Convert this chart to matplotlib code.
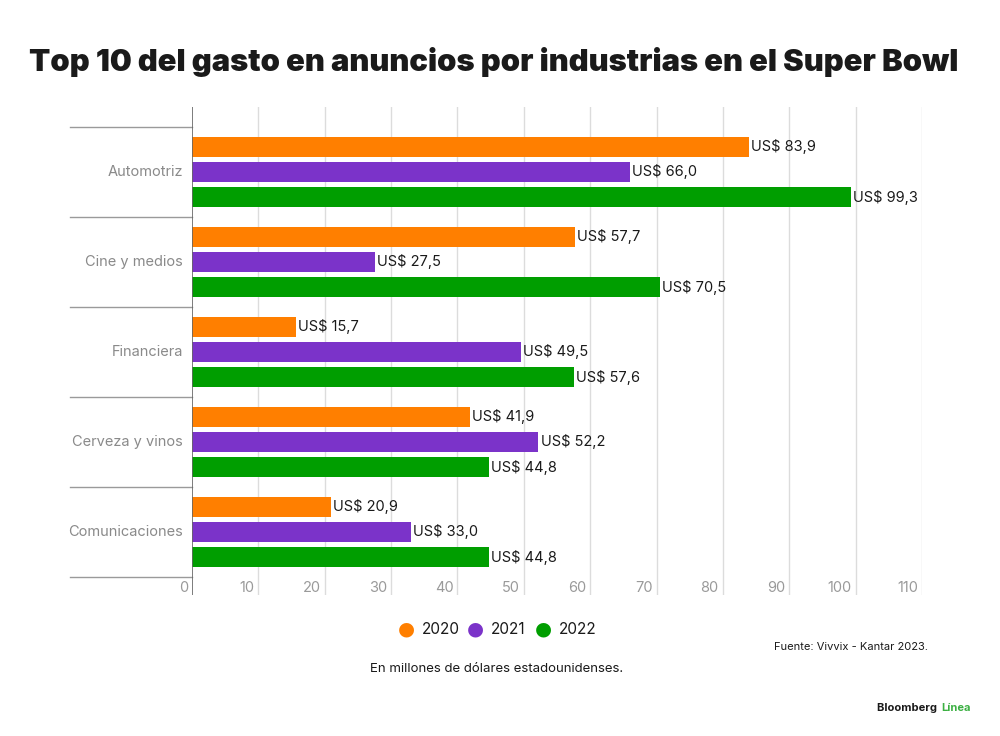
import matplotlib
matplotlib.use("Agg")
import matplotlib.pyplot as plt
import matplotlib.transforms as mtransforms

# datos (millones de US$)
categorias = ["Automotriz", "Cine y medios", "Financiera", "Cerveza y vinos", "Comunicaciones"]
anios = ["2020", "2021", "2022"]
gasto_2020 = [83.9, 57.7, 15.7, 41.9, 20.9]
gasto_2021 = [66.0, 27.5, 49.5, 52.2, 33.0]
gasto_2022 = [99.3, 70.5, 57.6, 44.8, 44.8]
ticks_x = list(range(0, 111, 10))

colores = ["#FF7F00", "#7B33C9", "#009E00"]
plt.rcParams["font.family"] = ["Inter", "DejaVu Sans"]

fig = plt.figure(figsize=(10, 7.36), dpi=100)
ax = fig.add_axes([0.192, 1 - 595 / 736, 0.730, (595 - 107) / 736])

series = [gasto_2020, gasto_2021, gasto_2022]
offsets = [-0.28, 0.0, 0.28]
alto = 0.225

for serie, off, col in zip(series, offsets, colores):
    ys = [i + off for i in range(len(categorias))]
    ax.barh(ys, serie, height=alto, color=col, zorder=3)
    for y, v in zip(ys, serie):
        ax.annotate("US$ " + f"{v:.1f}".replace(".", ","), (v, y),
                    xytext=(1.5, 0), textcoords="offset points",
                    ha="left", va="center", fontsize=10.5, color="#1a1a1a", zorder=4)

ax.set_xlim(0, 110)
ax.set_ylim(4.7, -0.722)
for s in ax.spines.values():
    s.set_visible(False)
ax.set_xticks([])
ax.set_yticks([])

# rejilla vertical
for t in ticks_x[1:]:
    ax.axvline(t, color="#dcdcdc", lw=1, zorder=1)
ax.axvline(0, color="#666666", lw=1.2, zorder=5)

# separadores entre categorias (a la izquierda)
trans = mtransforms.blended_transform_factory(ax.transAxes, ax.transData)
for b in range(len(categorias) + 1):
    ax.plot([-0.167, 0], [b - 0.5, b - 0.5], color="#9a9a9a", lw=1,
            transform=trans, clip_on=False, zorder=2)

# etiquetas de categoria
for i, c in enumerate(categorias):
    ax.annotate(c, (0, i), xytext=(-6.5, 0), textcoords="offset points",
                ha="right", va="center", fontsize=10.5, color="#8a8a8a",
                annotation_clip=False)

# etiquetas del eje x
for t in ticks_x:
    ax.annotate(str(t), (t, 4.62), xytext=(-3, 0), textcoords="offset points",
                ha="right", va="center", fontsize=10.5, color="#9a9a9a",
                annotation_clip=False)

# titulo
fig.text(0.494, 1 - 62 / 736, "Top 10 del gasto en anuncios por industrias en el Super Bowl",
         ha="center", va="center", fontsize=22.3, fontweight=900, color="#1a1a1a")

# leyenda
leg_x = [0.406, 0.475, 0.543]
for lx, an, col in zip(leg_x, anios, colores):
    fig.text(lx, 1 - 629 / 736, "\u25CF", ha="center", va="center", fontsize=14,
             color=col, family="DejaVu Sans")
    fig.text(lx + 0.016, 1 - 629 / 736, an, ha="left", va="center", fontsize=11, color="#1a1a1a")

fig.text(0.928, 1 - 647 / 736, "Fuente: Vivvix - Kantar 2023.", ha="right", va="center",
         fontsize=8, color="#1a1a1a")
fig.text(0.497, 1 - 669 / 736, "En millones de dólares estadounidenses.", ha="center",
         va="center", fontsize=9.5, color="#1a1a1a")

fig.text(0.940, 1 - 708 / 736, "Bloomberg ", ha="right", va="center", fontsize=8,
         fontweight="bold", color="#1a1a1a")
fig.text(0.941, 1 - 708 / 736, "Línea", ha="left", va="center", fontsize=8,
         fontweight="bold", color="#3cb043")

fig.savefig("out.png", dpi=100)
